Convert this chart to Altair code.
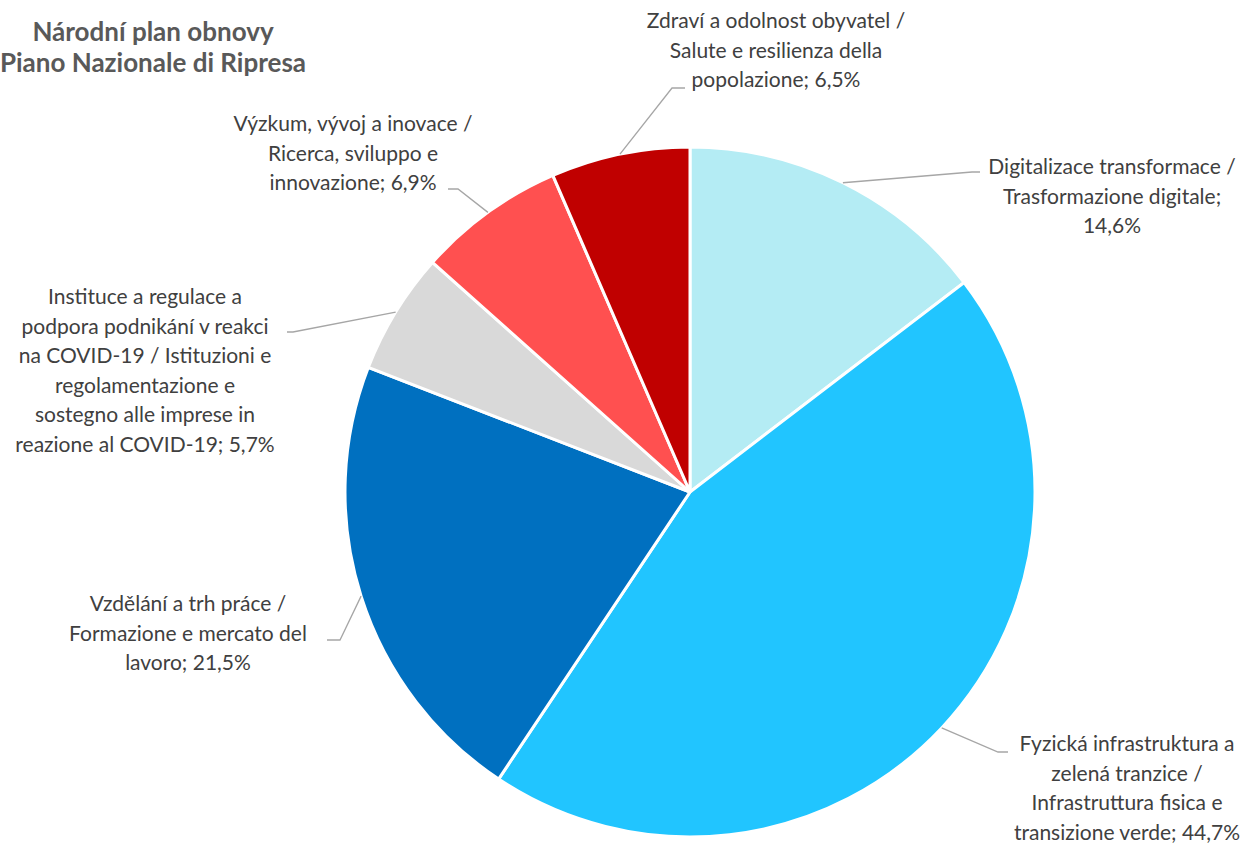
import altair as alt
import pandas as pd
import numpy as np

# ---- data ----
categories = [
    "Digitalizace transformace / Trasformazione digitale",
    "Fyzická infrastruktura a zelená tranzice / Infrastruttura fisica e transizione verde",
    "Vzdělání a trh práce / Formazione e mercato del lavoro",
    "Instituce a regulace a podpora podnikání v reakci na COVID-19 / Istituzioni e regolamentazione e sostegno alle imprese in reazione al COVID-19",
    "Výzkum, vývoj a inovace / Ricerca, sviluppo e innovazione",
    "Zdraví a odolnost obyvatel / Salute e resilienza della popolazione",
]
values = [14.6, 44.7, 21.5, 5.7, 6.9, 6.5]
value_labels = ["14,6%", "44,7%", "21,5%", "5,7%", "6,9%", "6,5%"]
label_lines = [
    ["Digitalizace transformace /", "Trasformazione digitale;", "14,6%"],
    ["Fyzická infrastruktura a", "zelená tranzice /", "Infrastruttura fisica e", "transizione verde; 44,7%"],
    ["Vzdělání a trh práce /", "Formazione e mercato del", "lavoro; 21,5%"],
    ["Instituce a regulace a", "podpora podnikání v reakci", "na COVID-19 / Istituzioni e",
     "regolamentazione e", "sostegno alle imprese in", "reazione al COVID-19; 5,7%"],
    ["Výzkum, vývoj a inovace /", "Ricerca, sviluppo e", "innovazione; 6,9%"],
    ["Zdraví a odolnost obyvatel /", "Salute e resilienza della", "popolazione; 6,5%"],
]
title_lines = ["Národní plan obnovy", "Piano Nazionale di Ripresa"]

# ---- styles / layout ----
colors = ["#B4ECF4", "#21C5FF", "#0070C0", "#D9D9D9", "#FF5050", "#C00000"]
W, H = 1251, 843
CX, CY, R = 690, 492, 345
FONT = "Lato"
FS = 21
LH = 29.5
TEXT_COLOR = "#404040"
LEADER_COLOR = "#A6A6A6"
# first-line centre offsets of each label block from the pie centre (manual placement, like the source)
label_offsets = [(422, -324), (437, 253), (-502, 113), (-545, -194), (-337, -367), (86, -470)]
# leader elbow offsets from pie centre and horizontal stub length (sign = direction)
elbow_offsets = [(282, -320), (308, 260), (-350, 148), (-397, -160), (-232, -303), (-18, -404)]
stub = [8, 10, -13, -6, -10, 13]

# ---- derived tables ----
df = pd.DataFrame({"category": categories, "value": values, "order": range(len(values)),
                   "label": value_labels})

total = sum(values)
cum = np.cumsum(values)
mid = (cum - np.array(values) / 2) / total * 2 * np.pi

leader_rows = []
for i, c in enumerate(categories):
    sx = CX + R * np.sin(mid[i])
    sy = CY - R * np.cos(mid[i])
    ex, ey = CX + elbow_offsets[i][0], CY + elbow_offsets[i][1]
    leader_rows += [
        {"category": c, "p": 0, "x": sx, "y": sy},
        {"category": c, "p": 1, "x": ex, "y": ey},
        {"category": c, "p": 2, "x": ex + stub[i], "y": ey},
    ]
leaders = pd.DataFrame(leader_rows)

labels_df = pd.DataFrame({
    "category": categories,
    "text": ["\n".join(l) for l in label_lines],
    "x": [CX + o[0] for o in label_offsets],
    "y": [CY + o[1] for o in label_offsets],
})

title_df = pd.DataFrame({"text": ["\n".join(title_lines)], "x": [153], "y": [33]})

pie = alt.Chart(df).mark_arc(outerRadius=R, stroke="white", strokeWidth=3).encode(
    theta=alt.Theta("value:Q", stack=True),
    color=alt.Color("category:N", scale=alt.Scale(domain=categories, range=colors), legend=None),
    order=alt.Order("order:Q"),
    x=alt.value(CX),
    y=alt.value(CY),
)

lead = alt.Chart(leaders).mark_line(color=LEADER_COLOR, strokeWidth=1.3).encode(
    x=alt.X("x:Q", scale=None),
    y=alt.Y("y:Q", scale=None),
    detail="category:N",
    order="p:Q",
)

txt = alt.Chart(labels_df).mark_text(
    font=FONT, fontSize=FS, color=TEXT_COLOR, align="center", baseline="middle",
    lineBreak="\n", lineHeight=LH,
).encode(x=alt.X("x:Q", scale=None), y=alt.Y("y:Q", scale=None), text="text:N")

ttl = alt.Chart(title_df).mark_text(
    font=FONT, fontSize=26, fontWeight="bold", color="#595959", align="center",
    baseline="middle", lineBreak="\n", lineHeight=31,
).encode(x=alt.X("x:Q", scale=None), y=alt.Y("y:Q", scale=None), text="text:N")

chart = alt.layer(pie, lead, txt, ttl).properties(
    width=W, height=H, padding=0, autosize=alt.AutoSizeParams(type="none"),
    background="white",
).configure_view(stroke=None)

chart.save("out.html", embed_options={"renderer": "svg", "actions": False})
